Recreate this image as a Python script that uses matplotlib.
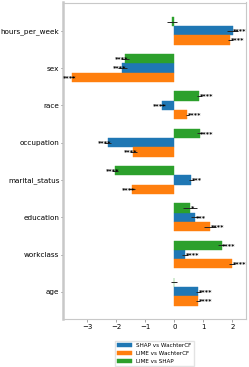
import matplotlib
matplotlib.use("Agg")
import matplotlib.pyplot as plt
import numpy as np

features = ["hours_per_week", "sex", "race", "occupation", "marital_status",
            "education", "workclass", "age"]
series_names = ["SHAP vs WachterCF", "LIME vs WachterCF", "LIME vs SHAP"]
colors = ["#1f77b4", "#ff7f0e", "#2ca02c"]

shap_wachter = [2.01, -1.79, -0.41, -2.30, 0.59, 0.71, 0.37, 0.83]
lime_wachter = [1.93, -3.52, 0.45, -1.42, -1.46, 1.23, 2.00, 0.81]
lime_shap = [-0.08, -1.70, 0.86, 0.87, -2.04, 0.54, 1.63, 0.00]

shap_wachter_err = [0.19, 0.15, 0.08, 0.12, 0.10, 0.15, 0.10, 0.08]
lime_wachter_err = [0.08, 0.05, 0.05, 0.12, 0.10, 0.20, 0.10, 0.06]
lime_shap_err = [0.17, 0.15, 0.08, 0.10, 0.10, 0.23, 0.12, 0.10]

shap_wachter_sig = ["****", "****", "****", "****", "***", "***", "****", "****"]
lime_wachter_sig = ["****", "****", "****", "****", "****", "****", "****", "****"]
lime_shap_sig = ["", "****", "****", "****", "****", "*", "****", ""]

values = [shap_wachter, lime_wachter, lime_shap]
errors = [shap_wachter_err, lime_wachter_err, lime_shap_err]
sigs = [shap_wachter_sig, lime_wachter_sig, lime_shap_sig]
offsets = [0.0, 0.25, -0.25]
h = 0.25

fig = plt.figure(figsize=(2.49, 3.67), dpi=100)
ax = fig.add_axes([63/249, (367-319)/367, (246-63)/249, (319-2.5)/367])

y = np.arange(len(features))
for vals, errs, sg, off, col, name in zip(values, errors, sigs, offsets, colors, series_names):
    ypos = y + off
    ax.barh(ypos, vals, height=h, color=col, label=name, edgecolor=col, linewidth=0.3)
    ax.errorbar(vals, ypos, xerr=errs, fmt='none', ecolor='0.15', elinewidth=0.7, capsize=0)
    for v, yy, s in zip(vals, ypos, sg):
        if not s:
            continue
        if v >= 0:
            ax.text(v + 0.02, yy, s, ha='left', va='center', fontsize=4.6,
                    fontweight='bold', color='black')
        else:
            ax.text(v + 0.13, yy, s, ha='right', va='center', fontsize=4.6,
                    fontweight='bold', color='black')

ax.set_yticks(y)
ax.set_yticklabels(features, fontsize=5.2)
ax.set_xticks([-3, -2, -1, 0, 1, 2])
ax.tick_params(axis='x', labelsize=5.0, length=2, width=0.5, pad=1.5, color='0.5')
ax.tick_params(axis='y', length=1.5, width=0.5, pad=1, color='0.3')
ax.set_xlim(-3.84, 2.47)
ax.set_ylim(7.73, -0.76)

for name, sp in ax.spines.items():
    sp.set_color('#c8c8c8')
    sp.set_linewidth(0.8)
ax.spines['left'].set_linewidth(1.8)

ax.legend(loc='upper center', bbox_to_anchor=(0.5, -0.06), fontsize=4.1,
          handlelength=2.5, frameon=True, edgecolor='#dddddd', fancybox=False)

fig.savefig("out.png", dpi=100)
